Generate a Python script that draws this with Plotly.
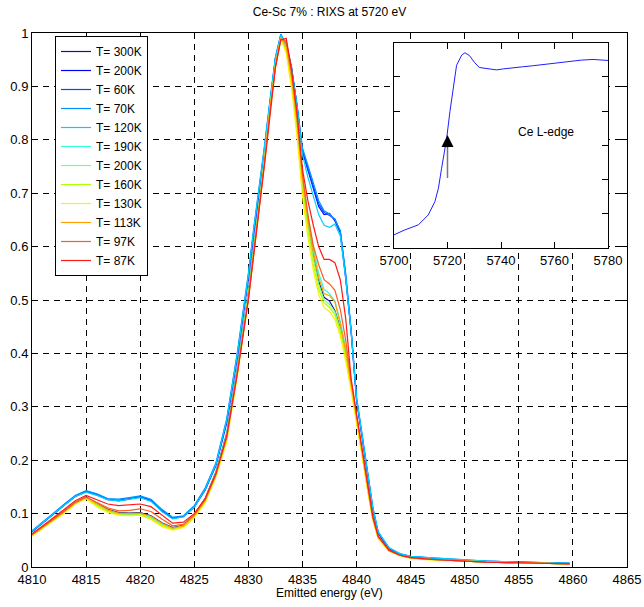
import plotly.graph_objects as go

# ---------------- data ----------------
energy = [4810, 4811, 4812, 4813, 4814, 4815, 4816, 4817, 4818, 4819, 4820, 4821, 4822, 4823, 4824, 4825,
          4826, 4827, 4828, 4829, 4830,
          4830.5, 4831, 4831.5, 4832, 4832.5, 4833, 4833.5, 4834, 4834.5,
          4835, 4835.5, 4836, 4836.5, 4837, 4837.5, 4838, 4838.5, 4839, 4839.5,
          4840, 4840.5, 4841, 4841.5, 4842,
          4843, 4844, 4845, 4847, 4850, 4852, 4855, 4857, 4859.7]

labels = ["T= 300K", "T= 200K", "T= 60K", "T= 70K", "T= 120K", "T= 190K",
          "T= 200K", "T= 160K", "T= 130K", "T= 113K", "T= 97K", "T= 87K"]

t300 = [0.062, 0.076, 0.090, 0.105, 0.121, 0.131, 0.119, 0.108, 0.102, 0.101, 0.102, 0.096, 0.083, 0.074, 0.078, 0.097,
        0.128, 0.178, 0.25, 0.375, 0.515,
        0.605, 0.685, 0.77, 0.862, 0.942, 0.99, 0.97, 0.912, 0.832,
        0.724, 0.648, 0.584, 0.535, 0.505, 0.498, 0.48, 0.447, 0.402, 0.342,
        0.282, 0.217, 0.152, 0.092, 0.056,
        0.031, 0.022, 0.017, 0.014, 0.011, 0.009, 0.008, 0.007, 0.006]
t200a = [0.066, 0.082, 0.099, 0.116, 0.132, 0.141, 0.135, 0.126, 0.125, 0.128, 0.131, 0.124, 0.105, 0.091, 0.094, 0.112,
         0.144, 0.19, 0.27, 0.395, 0.54,
         0.625, 0.70, 0.78, 0.868, 0.95, 0.995, 0.98, 0.935, 0.862,
         0.778, 0.742, 0.71, 0.675, 0.66, 0.662, 0.648, 0.626, 0.54, 0.44,
         0.312, 0.245, 0.176, 0.108, 0.063,
         0.034, 0.024, 0.019, 0.016, 0.012, 0.010, 0.009, 0.007, 0.007]
t60 = [0.067, 0.083, 0.100, 0.117, 0.133, 0.142, 0.136, 0.127, 0.124, 0.127, 0.132, 0.125, 0.106, 0.092, 0.095, 0.113,
       0.146, 0.192, 0.274, 0.40, 0.545,
       0.63, 0.705, 0.785, 0.87, 0.952, 0.997, 0.976, 0.93, 0.864,
       0.78, 0.746, 0.715, 0.68, 0.664, 0.658, 0.652, 0.628, 0.545, 0.442,
       0.315, 0.248, 0.178, 0.11, 0.064,
       0.035, 0.024, 0.02, 0.016, 0.012, 0.011, 0.009, 0.008, 0.007]
t70 = [0.068, 0.084, 0.101, 0.118, 0.134, 0.143, 0.137, 0.128, 0.127, 0.130, 0.133, 0.127, 0.108, 0.093, 0.096, 0.115,
       0.148, 0.195, 0.278, 0.405, 0.55,
       0.635, 0.71, 0.79, 0.875, 0.955, 0.998, 0.978, 0.932, 0.866,
       0.785, 0.75, 0.72, 0.686, 0.667, 0.661, 0.65, 0.63, 0.55, 0.445,
       0.318, 0.25, 0.18, 0.112, 0.066,
       0.036, 0.025, 0.020, 0.017, 0.013, 0.011, 0.009, 0.008, 0.007]
t120 = [0.067, 0.083, 0.099, 0.116, 0.132, 0.140, 0.134, 0.126, 0.124, 0.127, 0.130, 0.123, 0.104, 0.090, 0.094, 0.112,
        0.145, 0.192, 0.275, 0.40, 0.546,
        0.632, 0.708, 0.788, 0.872, 0.953, 0.996, 0.978, 0.932, 0.862,
        0.772, 0.73, 0.695, 0.66, 0.64, 0.636, 0.642, 0.62, 0.54, 0.44,
        0.316, 0.25, 0.18, 0.112, 0.066,
        0.036, 0.025, 0.02, 0.017, 0.013, 0.011, 0.009, 0.008, 0.007]
t190 = [0.061, 0.075, 0.089, 0.104, 0.12, 0.13, 0.117, 0.106, 0.100, 0.099, 0.100, 0.093, 0.081, 0.072, 0.077, 0.096,
        0.127, 0.177, 0.248, 0.372, 0.512,
        0.603, 0.683, 0.768, 0.862, 0.942, 0.992, 0.972, 0.915, 0.838,
        0.732, 0.66, 0.598, 0.55, 0.52, 0.512, 0.498, 0.46, 0.41, 0.345,
        0.284, 0.218, 0.152, 0.092, 0.056,
        0.031, 0.022, 0.017, 0.014, 0.011, 0.009, 0.008, 0.007, 0.006]
t200b = [0.060, 0.074, 0.088, 0.103, 0.12, 0.130, 0.116, 0.105, 0.099, 0.098, 0.099, 0.092, 0.080, 0.071, 0.076, 0.095,
         0.125, 0.175, 0.245, 0.37, 0.51,
         0.60, 0.68, 0.765, 0.86, 0.94, 0.99, 0.97, 0.91, 0.83,
         0.72, 0.645, 0.58, 0.53, 0.50, 0.492, 0.478, 0.445, 0.40, 0.34,
         0.28, 0.215, 0.15, 0.09, 0.055,
         0.03, 0.022, 0.017, 0.014, 0.011, 0.009, 0.008, 0.007, 0.006]
t160 = [0.059, 0.073, 0.087, 0.102, 0.119, 0.129, 0.115, 0.104, 0.098, 0.097, 0.098, 0.090, 0.078, 0.070, 0.075, 0.094,
        0.123, 0.172, 0.24, 0.365, 0.505,
        0.596, 0.676, 0.762, 0.858, 0.938, 0.99, 0.968, 0.905, 0.82,
        0.71, 0.632, 0.568, 0.52, 0.494, 0.486, 0.472, 0.44, 0.394, 0.335,
        0.276, 0.212, 0.148, 0.089, 0.054,
        0.03, 0.021, 0.017, 0.014, 0.011, 0.009, 0.008, 0.007, 0.006]
t130 = [0.058, 0.072, 0.086, 0.101, 0.118, 0.128, 0.113, 0.102, 0.097, 0.096, 0.097, 0.089, 0.076, 0.069, 0.074, 0.092,
        0.12, 0.168, 0.235, 0.36, 0.50,
        0.592, 0.672, 0.758, 0.855, 0.936, 0.99, 0.962, 0.895, 0.805,
        0.695, 0.618, 0.556, 0.51, 0.486, 0.478, 0.464, 0.432, 0.386, 0.33,
        0.272, 0.21, 0.146, 0.088, 0.053,
        0.03, 0.021, 0.016, 0.013, 0.011, 0.009, 0.008, 0.007, 0.006]
t113 = [0.060, 0.074, 0.089, 0.104, 0.12, 0.13, 0.118, 0.107, 0.101, 0.100, 0.101, 0.095, 0.082, 0.073, 0.077, 0.096,
        0.124, 0.172, 0.242, 0.366, 0.505,
        0.596, 0.676, 0.762, 0.858, 0.94, 0.992, 0.975, 0.915, 0.835,
        0.728, 0.652, 0.59, 0.542, 0.512, 0.508, 0.496, 0.455, 0.405, 0.342,
        0.282, 0.218, 0.152, 0.092, 0.056,
        0.031, 0.022, 0.017, 0.014, 0.011, 0.009, 0.008, 0.007, 0.006]
t97 = [0.061, 0.075, 0.090, 0.105, 0.121, 0.131, 0.121, 0.111, 0.105, 0.106, 0.109, 0.104, 0.09, 0.077, 0.08, 0.098,
       0.126, 0.174, 0.244, 0.366, 0.502,
       0.593, 0.673, 0.758, 0.854, 0.936, 0.988, 0.985, 0.925, 0.842,
       0.735, 0.66, 0.602, 0.566, 0.538, 0.53, 0.518, 0.482, 0.425, 0.35,
       0.285, 0.22, 0.154, 0.094, 0.057,
       0.031, 0.022, 0.017, 0.014, 0.011, 0.009, 0.008, 0.007, 0.006]
t87 = [0.062, 0.077, 0.092, 0.108, 0.124, 0.134, 0.126, 0.118, 0.115, 0.116, 0.118, 0.113, 0.097, 0.082, 0.084, 0.100,
       0.128, 0.175, 0.245, 0.365, 0.50,
       0.59, 0.67, 0.755, 0.85, 0.935, 0.987, 0.99, 0.93, 0.85,
       0.745, 0.686, 0.64, 0.60, 0.576, 0.576, 0.57, 0.538, 0.465, 0.352,
       0.286, 0.222, 0.156, 0.095, 0.058,
       0.032, 0.022, 0.018, 0.014, 0.011, 0.009, 0.008, 0.007, 0.006]

series = [t300, t200a, t60, t70, t120, t190, t200b, t160, t130, t113, t97, t87]
colors = ["#10109a", "#0000ff", "#0048ff", "#0090ff", "#00d0ff", "#30ffd8",
          "#70ff90", "#b0ff00", "#ffee00", "#ffa000", "#ff5a20", "#ff1a1a"]

# inset: Ce L-edge absorption
inset_e = [5700, 5704.1, 5709.1, 5712.8, 5715.3, 5716.6, 5717.8, 5719.7, 5720.9, 5722.2, 5723.4, 5725.3,
           5726.5, 5728.2, 5730, 5731.9, 5735, 5738.3, 5741, 5744.3, 5748, 5751.8, 5755, 5759.3,
           5763, 5766.9, 5770, 5774.4, 5777, 5780]
inset_mu = [0.077, 0.106, 0.135, 0.193, 0.271, 0.349, 0.466, 0.641, 0.796, 0.951, 1.067, 1.126,
            1.14, 1.124, 1.085, 1.054, 1.047, 1.040, 1.046, 1.05, 1.058, 1.064, 1.07, 1.078,
            1.088, 1.093, 1.097, 1.101, 1.098, 1.095]

arrow_x = 5720
arrow_tail = 0.40
arrow_tip = 0.66

x_ticks = list(range(4810, 4866, 5))
y_ticks = [0, 0.1, 0.2, 0.3, 0.4, 0.5, 0.6, 0.7, 0.8, 0.9, 1]
inset_ticks = [5700, 5720, 5740, 5760, 5780]

# ---------------- figure ----------------
FONT = "Liberation Sans, Arial, sans-serif"
W, H = 644, 607
L, R, T, B = 32, 17, 33, 40
PH = H - T - B

fig = go.Figure()

for lab, ys, col in zip(labels, series, colors):
    fig.add_trace(go.Scatter(x=energy, y=ys, mode="lines", name=lab,
                             line=dict(color=col, width=1.2), xaxis="x", yaxis="y"))

fig.add_trace(go.Scatter(x=inset_e, y=inset_mu, mode="lines", showlegend=False,
                         line=dict(color="#1f1fff", width=1), xaxis="x2", yaxis="y2"))

axis_common = dict(showline=True, linecolor="black", linewidth=1, mirror="ticks",
                   ticks="inside", ticklen=6, tickcolor="black", zeroline=False, automargin=False,
                   tickfont=dict(family=FONT, size=13, color="black"))

fig.update_layout(
    width=W, height=H,
    margin=dict(l=L, r=R, t=T, b=B, autoexpand=False),
    paper_bgcolor="white", plot_bgcolor="white",
    font=dict(family=FONT, size=13, color="black"),
    title=dict(text="Ce-Sc 7% : RIXS at 5720 eV", x=0.5, xref="paper", xanchor="center",
               y=1 - 12 / H, yanchor="middle", font=dict(family=FONT, size=12, color="black")),
    xaxis=dict(range=[4810, 4865], tickvals=x_ticks, showgrid=True, gridcolor="black",
               griddash="6px,5px", gridwidth=1, **axis_common),
    yaxis=dict(range=[0, 1], tickvals=y_ticks, showgrid=True, gridcolor="black",
               griddash="6px,5px", gridwidth=1, **axis_common),
    xaxis2=dict(domain=[(394 - L) / (W - L - R), (608 - L) / (W - L - R)], anchor="y2",
                range=[5700, 5780], tickvals=inset_ticks, showgrid=False, **axis_common),
    yaxis2=dict(domain=[(H - B - 248) / PH, (H - B - 42.5) / PH], anchor="x2", range=[0, 1.2],
                dtick=0.2, showgrid=False, showticklabels=False, **axis_common),
    legend=dict(x=(55 - L) / (W - L - R), y=(H - B - 36) / PH, xanchor="left", yanchor="top",
                bgcolor="white", bordercolor="black", borderwidth=1,
                font=dict(family=FONT, size=12, color="black"), itemwidth=30),
    showlegend=True,
)

fig.add_annotation(text="Emitted energy (eV)", xref="paper", yref="paper", x=0.5, y=-26 / PH,
                   xanchor="center", yanchor="middle", showarrow=False,
                   font=dict(family=FONT, size=12, color="black"))

fig.add_annotation(text="Ce L-edge", xref="x2", yref="y2", x=5757, y=0.68,
                   xanchor="center", yanchor="middle", showarrow=False,
                   font=dict(family=FONT, size=12, color="black"))

# arrow shaft (gray) and head (black)
fig.add_annotation(x=arrow_x, y=arrow_tip - 0.06, ax=arrow_x, ay=arrow_tail, xref="x2", yref="y2",
                   axref="x2", ayref="y2", text="", showarrow=True, arrowhead=0,
                   arrowwidth=1.5, arrowcolor="#777777")
fig.add_annotation(x=arrow_x, y=arrow_tip, ax=arrow_x, ay=arrow_tip - 0.08, xref="x2", yref="y2",
                   axref="x2", ayref="y2", text="", showarrow=True, arrowhead=2,
                   arrowsize=1.6, arrowwidth=1.5, arrowcolor="black")

fig.write_html("out.html", config={"displayModeBar": False},
               post_script="document.body.style.margin='0';document.body.style.overflow='hidden';")
